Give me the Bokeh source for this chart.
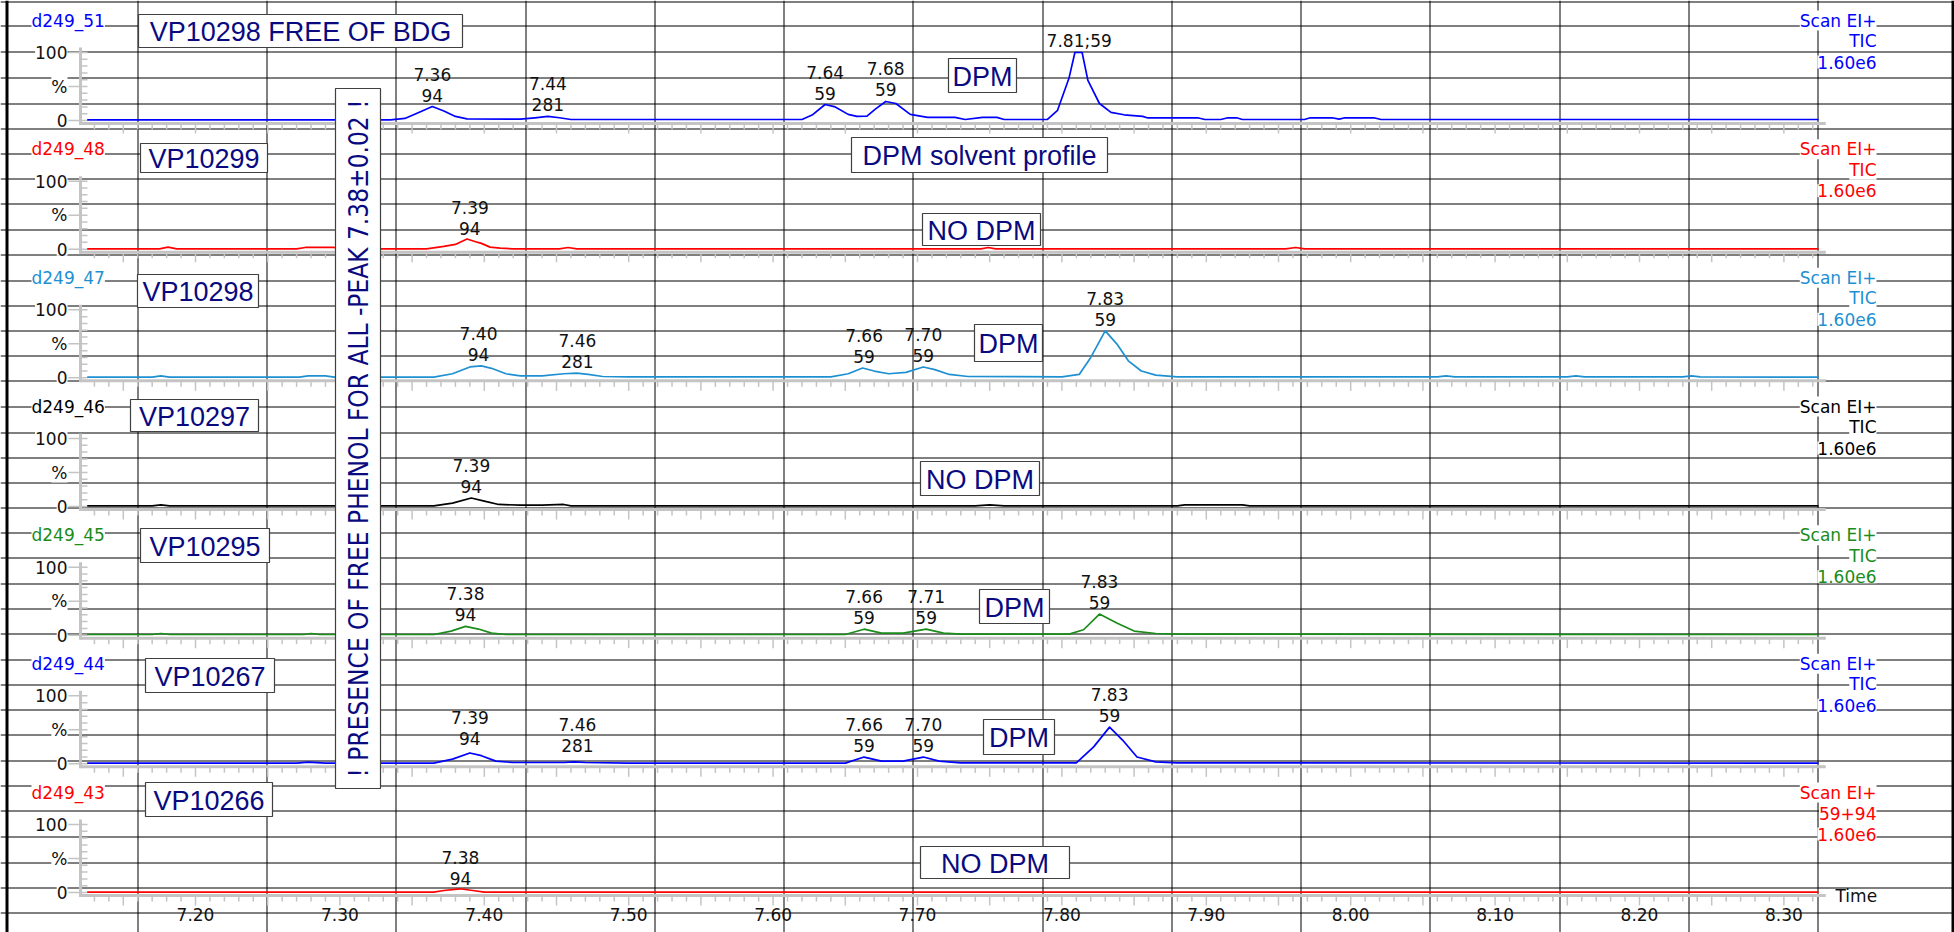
import math
from bokeh.plotting import figure
from bokeh.models import Range1d, Label
from bokeh.core.properties import value
from bokeh.embed import file_html
from bokeh.resources import INLINE

# ---------------- data ----------------
run_ids = ["d249_51", "d249_48", "d249_47", "d249_46", "d249_45", "d249_44", "d249_43"]
sample_names = ["VP10298 FREE OF BDG", "VP10299", "VP10298", "VP10297", "VP10295", "VP10267", "VP10266"]
sample_notes = ["DPM", "NO DPM", "DPM", "NO DPM", "DPM", "DPM", "NO DPM"]
scan_modes = ["Scan EI+"] * 7
ion_channels = ["TIC", "TIC", "TIC", "TIC", "TIC", "TIC", "59+94"]
intensity_scales = ["1.60e6"] * 7
trace_colors = ["#0000FF", "#FF0000", "#1E90D2", "#000000", "#1A8C1A", "#0000FF", "#FF0000"]
solvent_note = "DPM solvent profile"
phenol_note = "! PRESENCE OF FREE PHENOL FOR ALL -PEAK 7.38\u00b10.02 !"
x_tick_labels = [7.20, 7.30, 7.40, 7.50, 7.60, 7.70, 7.80, 7.90, 8.00, 8.10, 8.20, 8.30]
y_tick_labels = ["0", "%", "100"]
x_axis_title = "Time"

t_51 = [7.125, 7.335, 7.345, 7.355, 7.364, 7.372, 7.380, 7.388, 7.425, 7.435, 7.444, 7.452, 7.460,
        7.620, 7.627, 7.636, 7.643, 7.652, 7.658, 7.665, 7.671, 7.678, 7.685, 7.695, 7.707, 7.726,
        7.733, 7.745, 7.755, 7.760, 7.790, 7.797, 7.805, 7.809, 7.814, 7.818, 7.826, 7.834, 7.843,
        7.856, 7.859, 7.894, 7.899, 7.910, 7.915, 7.921, 7.925, 7.968, 7.972, 7.987, 7.992, 7.996,
        8.016, 8.021, 8.324]
v_51 = [1.0, 1.0, 3.0, 12.0, 20.5, 14.0, 6.0, 2.5, 2.0, 4.0, 6.0, 4.0, 1.5,
        1.5, 8.0, 23.5, 20.0, 9.0, 6.0, 6.5, 17.0, 28.0, 25.0, 9.0, 4.5, 4.5,
        1.5, 4.5, 4.5, 1.5, 1.5, 15.0, 63.0, 100.0, 100.0, 59.0, 25.0, 12.0, 8.4,
        6.0, 4.0, 4.0, 1.5, 1.5, 4.0, 4.0, 1.5, 1.5, 4.0, 4.0, 2.0, 4.0,
        4.0, 1.5, 1.5]

t_48 = [7.125, 7.175, 7.181, 7.187, 7.270, 7.276, 7.296, 7.300, 7.360, 7.372, 7.380, 7.388, 7.394,
        7.398, 7.404, 7.411, 7.420, 7.452, 7.458, 7.464, 7.744, 7.749, 7.754, 7.955, 7.962, 7.968, 8.324]
v_48 = [0.5, 0.5, 3.0, 0.5, 0.5, 2.5, 2.5, 0.5, 0.5, 4.0, 7.0, 15.0, 11.0,
        8.5, 3.0, 1.5, 0.5, 0.5, 2.5, 0.5, 0.5, 2.5, 0.5, 0.5, 2.5, 0.5, 0.5]

t_47 = [7.125, 7.170, 7.176, 7.182, 7.272, 7.278, 7.290, 7.296, 7.365, 7.378, 7.390, 7.398, 7.405,
        7.415, 7.425, 7.440, 7.455, 7.464, 7.472, 7.482, 7.500, 7.640, 7.652, 7.662, 7.670, 7.680,
        7.692, 7.704, 7.712, 7.722, 7.735, 7.800, 7.812, 7.820, 7.830, 7.838, 7.846, 7.855, 7.865,
        7.880, 8.060, 8.066, 8.072, 8.150, 8.156, 8.162, 8.230, 8.236, 8.242, 8.324]
v_47 = [1.0, 1.0, 3.0, 1.0, 1.0, 3.0, 3.0, 1.0, 1.0, 6.0, 16.0, 17.5, 14.0,
        6.0, 3.0, 3.0, 6.0, 7.0, 5.0, 2.0, 1.5, 1.5, 6.0, 14.5, 10.0, 6.0,
        8.0, 16.0, 12.0, 5.0, 2.0, 1.5, 5.0, 30.0, 69.0, 50.0, 25.0, 10.0, 4.0,
        1.5, 1.5, 3.0, 1.5, 1.5, 3.0, 1.5, 1.5, 3.0, 1.5, 1.0]

t_46 = [7.125, 7.170, 7.176, 7.182, 7.365, 7.378, 7.391, 7.400, 7.410, 7.425, 7.440, 7.455, 7.460,
        7.740, 7.750, 7.760, 7.880, 7.885, 7.925, 7.930, 8.324]
v_46 = [1.0, 1.0, 2.5, 1.0, 1.0, 5.0, 12.5, 8.0, 3.0, 2.0, 2.0, 3.0, 1.0,
        1.0, 2.5, 1.0, 1.0, 2.5, 2.5, 1.0, 1.0]

t_45 = [7.125, 7.170, 7.176, 7.182, 7.275, 7.280, 7.286, 7.365, 7.377, 7.387, 7.396, 7.405, 7.415,
        7.650, 7.663, 7.675, 7.690, 7.706, 7.718, 7.730, 7.805, 7.815, 7.826, 7.838, 7.850, 7.865,
        7.880, 8.324]
v_45 = [1.0, 1.0, 2.5, 1.0, 1.0, 2.5, 1.0, 1.0, 6.0, 13.0, 9.0, 3.0, 1.0,
        1.0, 8.8, 3.0, 3.0, 8.8, 3.0, 1.5, 1.5, 8.0, 31.0, 18.0, 6.0, 2.5,
        1.5, 1.0]

t_44 = [7.125, 7.270, 7.278, 7.290, 7.365, 7.378, 7.390, 7.398, 7.408, 7.420, 7.455, 7.462, 7.470,
        7.500, 7.650, 7.663, 7.675, 7.690, 7.704, 7.715, 7.730, 7.810, 7.822, 7.833, 7.842, 7.852,
        7.865, 7.880, 8.324]
v_44 = [1.0, 1.0, 2.5, 1.0, 1.0, 7.0, 16.0, 12.0, 4.0, 2.0, 2.0, 3.0, 2.0,
        1.0, 1.0, 10.0, 4.0, 4.0, 10.0, 4.0, 1.5, 1.5, 25.0, 54.0, 35.0, 10.0,
        3.0, 1.5, 1.0]

t_43 = [7.125, 7.365, 7.372, 7.383, 7.392, 7.400, 8.324]
v_43 = [0.5, 0.5, 3.0, 5.5, 3.0, 0.5, 0.5]

# peak labels per panel: retention time, m/z, label anchor (%)
pk_rt = [["7.36", "7.44", "7.64", "7.68", "7.81;59"], ["7.39"], ["7.40", "7.46", "7.66", "7.70", "7.83"],
         ["7.39"], ["7.38", "7.66", "7.71", "7.83"], ["7.39", "7.46", "7.66", "7.70", "7.83"], ["7.38"]]
pk_mz = [["94", "281", "59", "59", ""], ["94"], ["94", "281", "59", "59", "59"],
         ["94"], ["94", "59", "59", "59"], ["94", "281", "59", "59", "59"], ["94"]]
pk_t = [[7.364, 7.444, 7.636, 7.678, 7.812], [7.390], [7.396, 7.4645, 7.663, 7.704, 7.830],
        [7.391], [7.387, 7.663, 7.706, 7.826], [7.390, 7.4645, 7.663, 7.704, 7.833], [7.3835]]
pk_v = [[20.5, 7.0, 23.5, 28.0, 100.0], [14.0], [17.5, 7.2, 14.5, 16.0, 69.0],
        [12.5], [13.0, 8.8, 8.8, 31.0], [20.0, 10.0, 10.0, 10.0, 54.0], [3.0]]

traces_t = [t_51, t_48, t_47, t_46, t_45, t_44, t_43]
traces_v = [v_51, v_48, v_47, v_46, v_45, v_44, v_43]

# ---------------- layout (page pixels) ----------------
FIG_W, FIG_H = 1954, 932
PAGE_X0, PAGE_Y0 = 0, 0
PAGE_X1, PAGE_Y1 = PAGE_X0 + FIG_W, PAGE_Y0 + FIG_H
X_REF, T_REF, PX_PER_MIN = 195.0, 7.2, 1444.0
PANEL_PITCH = 128.67
ZERO_Y0 = 120.0
PX_PER_PCT = 0.68
AXIS_T0, AXIS_T1 = 7.1205, 8.329
AXIS_X = 80.0
GREY = "#C4C4C4"
NAVY = "#0A0A80"
CHART_FONT = "DejaVu Sans"
BOX_FONT = "Liberation Sans"
NARROW_FONT = "DejaVu Sans Condensed, Liberation Sans"

def t_of_px(X):
    return T_REF + (X - X_REF) / PX_PER_MIN

zero_y = [ZERO_Y0 + PANEL_PITCH * i for i in range(7)]

p = figure(width=FIG_W, height=FIG_H, output_backend="svg", toolbar_location=None,
           x_range=Range1d(t_of_px(PAGE_X0), t_of_px(PAGE_X1)),
           y_range=Range1d(PAGE_Y1, PAGE_Y0),
           x_axis_location=None, y_axis_location=None, min_border=0)
p.grid.visible = False
p.outline_line_color = None
p.background_fill_color = "white"
p.border_fill_color = "white"
p.extra_x_ranges = {"px": Range1d(PAGE_X0, PAGE_X1)}
p.extra_y_ranges = {f"p{i}": Range1d((zero_y[i] - PAGE_Y1) / PX_PER_PCT, (zero_y[i] - PAGE_Y0) / PX_PER_PCT)
                    for i in range(7)}

# spreadsheet-like background grid
row_y = [1, 25, 51, 77, 103, 128, 153, 178, 203, 229, 254, 280, 305, 330, 355, 380, 406, 432, 457,
         482, 507, 532, 557, 583, 608, 633, 659, 684, 709, 734, 760, 785, 810, 836, 862, 887, 912]
col_x = [137 + 129.23 * k for k in range(14)]
p.segment(x0=[PAGE_X0] * len(row_y), x1=[PAGE_X1] * len(row_y), y0=[y + 0.5 for y in row_y],
          y1=[y + 0.5 for y in row_y], x_range_name="px", line_color="black", line_width=1, level="underlay")
p.segment(x0=[round(x) + 0.5 for x in col_x], x1=[round(x) + 0.5 for x in col_x], y0=[PAGE_Y0] * len(col_x),
          y1=[PAGE_Y1] * len(col_x), x_range_name="px", line_color="black", line_width=1, level="underlay")
# page borders
p.segment(x0=[6.5, 1952.5], x1=[6.5, 1952.5], y0=[PAGE_Y0, PAGE_Y0], y1=[PAGE_Y1, PAGE_Y1],
          x_range_name="px", line_color="black", line_width=3, level="underlay")

# minor/major tick positions on the time axis
x_ticks_all = [round(7.13 + 0.01 * k, 2) for k in range(120)]

for i in range(7):
    z = zero_y[i]
    yr = f"p{i}"
    col = trace_colors[i]
    # axes
    p.segment(x0=[AXIS_X], x1=[AXIS_X], y0=[z - 73], y1=[z + 4.5], x_range_name="px",
              line_color=GREY, line_width=3)
    p.segment(x0=[AXIS_T0], x1=[AXIS_T1], y0=[z + 3], y1=[z + 3], line_color=GREY, line_width=3)
    # y ticks
    yt = [10 * k for k in range(11)]
    p.segment(x0=[AXIS_X] * 11, x1=[AXIS_X + 7] * 11, y0=yt, y1=yt, x_range_name="px",
              y_range_name=yr, line_color=GREY, line_width=1.5)
    p.segment(x0=[AXIS_X - 12] * 3, x1=[AXIS_X] * 3, y0=[0, 50, 100], y1=[0, 50, 100], x_range_name="px",
              y_range_name=yr, line_color=GREY, line_width=1.5)
    # x ticks
    lens = [9 if abs(t * 20 - round(t * 20)) < 1e-6 else 5 for t in x_ticks_all]
    p.segment(x0=x_ticks_all, x1=x_ticks_all, y0=[z + 4] * len(x_ticks_all), y1=[z + 4 + L for L in lens],
              line_color=GREY, line_width=1.5)
    # trace
    p.line(traces_t[i], traces_v[i], y_range_name=yr, line_color=col, line_width=1.7, line_join="round")
    # peak labels
    for t, rt, mz, v in zip(pk_t[i], pk_rt[i], pk_mz[i], pk_v[i]):
        if mz:
            p.text(x=[t, t], y=[v + 11.5 / PX_PER_PCT, v + 32.5 / PX_PER_PCT], text=[mz, rt], y_range_name=yr,
                   text_font=value(CHART_FONT), text_font_size="17px", text_color="#111111",
                   text_align="center", text_baseline="middle")
        else:
            p.text(x=[t], y=[v + 12 / PX_PER_PCT], text=[rt], y_range_name=yr,
                   text_font=value(CHART_FONT), text_font_size="17px", text_color="#111111",
                   text_align="center", text_baseline="middle")
    # y tick labels
    for lab, v in zip(y_tick_labels, [0, 50, 100]):
        p.add_layout(Label(x=AXIS_X - 13, y=v, x_range_name="px", y_range_name=yr, text=lab,
                           text_font=CHART_FONT, text_font_size="17px", text_color="#111111",
                           text_align="right", text_baseline="middle", background_fill_color="white"))
    # run id
    p.add_layout(Label(x=31, y=z - 100, x_range_name="px", text=run_ids[i], text_font=CHART_FONT,
                       text_font_size="17px", text_color=col, text_align="left", text_baseline="middle",
                       background_fill_color="white"))
    # right info block
    for k, s in enumerate([scan_modes[i], ion_channels[i], intensity_scales[i]]):
        p.add_layout(Label(x=1876, y=z - 100 + [0, 20.5, 41.5][k], x_range_name="px", text=s,
                           text_font=CHART_FONT, text_font_size="17px", text_color=col,
                           text_align="right", text_baseline="middle", background_fill_color="white"))

# bottom time-axis labels
p.text(x=x_tick_labels, y=[914] * len(x_tick_labels), text=[f"{v:.2f}" for v in x_tick_labels],
       text_font=value(CHART_FONT), text_font_size="17px", text_color="#111111",
       text_align="center", text_baseline="middle")
p.text(x=[1835], y=[895], text=[x_axis_title], x_range_name="px", text_font=value(CHART_FONT),
       text_font_size="17px", text_color="#111111", text_align="left", text_baseline="middle")

# note boxes (page-pixel layout)
boxes = [
    (sample_names[0], 138, 462, 14, 47),
    (sample_names[1], 140, 267, 143, 172),
    (sample_names[2], 137, 258, 274, 307),
    (sample_names[3], 130, 258, 399, 431),
    (sample_names[4], 140, 269, 528, 562),
    (sample_names[5], 145, 274, 658, 692),
    (sample_names[6], 145, 272, 782, 816),
    (sample_notes[0], 948, 1016, 58, 92),
    (solvent_note, 851, 1107, 137, 172),
    (sample_notes[1], 922, 1040, 213, 245),
    (sample_notes[2], 974, 1042, 324, 361),
    (sample_notes[3], 920, 1039, 461, 495),
    (sample_notes[4], 979, 1049, 589, 623),
    (sample_notes[5], 983, 1054, 719, 754),
    (sample_notes[6], 920, 1069, 846, 878),
]
for txt, x0, x1, y0, y1 in boxes:
    p.quad(left=[x0], right=[x1], top=[y0], bottom=[y1], x_range_name="px", fill_color="white",
           line_color="#404040", line_width=1.2, level="overlay")
    p.text(x=[(x0 + x1) / 2], y=[(y0 + y1) / 2 + 1], text=[txt], x_range_name="px",
           text_font=value(BOX_FONT), text_font_size="27px", text_color=NAVY,
           text_align="center", text_baseline="middle", level="overlay")

# vertical phenol note
p.quad(left=[335], right=[380], top=[88], bottom=[788], x_range_name="px", fill_color="white",
       line_color="#404040", line_width=1.2, level="overlay")
p.text(x=[358], y=[438], text=[phenol_note], x_range_name="px", angle=math.pi / 2,
       text_font=value(NARROW_FONT), text_font_size="26px", text_color=NAVY,
       text_align="center", text_baseline="middle", level="overlay")

open("out.html", "w").write(file_html(p, INLINE))
